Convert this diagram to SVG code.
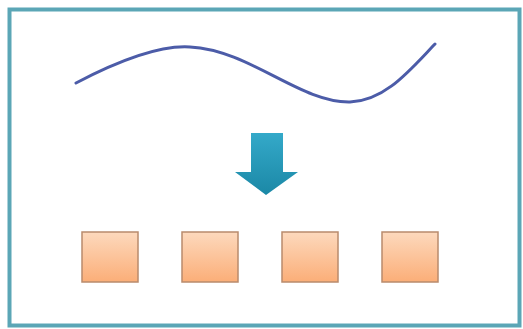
<svg xmlns="http://www.w3.org/2000/svg" width="523" height="329" viewBox="0 0 523 329">
<defs>
<linearGradient id="sq" x1="0" y1="0" x2="0" y2="1">
<stop offset="0" stop-color="#fdd9bd"/>
<stop offset="1" stop-color="#fbae78"/>
</linearGradient>
<linearGradient id="ar" x1="0" y1="0" x2="0" y2="1">
<stop offset="0" stop-color="#34a9c9"/>
<stop offset="1" stop-color="#1b88a6"/>
</linearGradient>
<style>
.sq{fill:url(#sq);stroke:#b98b6c;stroke-width:1.5}
</style>
</defs>
<rect x="0" y="0" width="523" height="329" fill="#ffffff"/>
<rect x="9.5" y="9.5" width="510" height="316" fill="#ffffff" stroke="#5ba6b6" stroke-width="4"/>
<g id="curve">
<path d="M76,83 C120,60 160,45 190,47 C250,50 300,103 350,102 C385,101 410,70 435,44" fill="none" stroke="#4c5ca8" stroke-width="3" stroke-linecap="round"/>
</g>
<g id="connectors">
<path d="M251,133 H283 V172 H298 L266,195 L235,172 H251 Z" fill="url(#ar)"/>
</g>
<g id="box1"><rect class="sq" x="82" y="232" width="56" height="50"/></g>
<g id="box2"><rect class="sq" x="182" y="232" width="56" height="50"/></g>
<g id="box3"><rect class="sq" x="282" y="232" width="56" height="50"/></g>
<g id="box4"><rect class="sq" x="382" y="232" width="56" height="50"/></g>
</svg>
